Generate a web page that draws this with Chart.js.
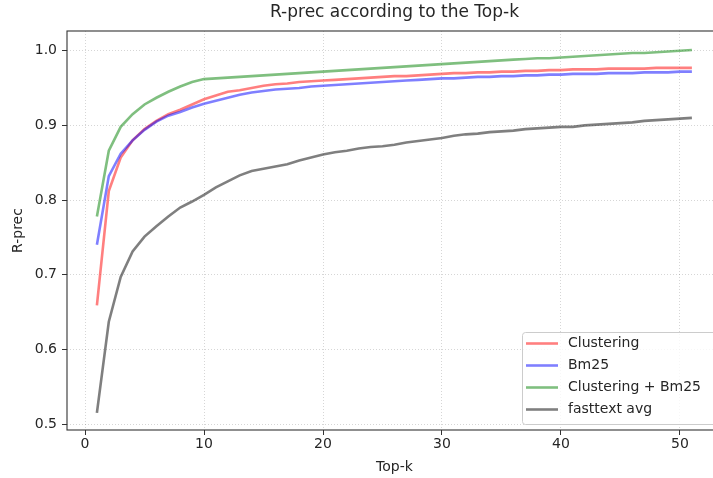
<!DOCTYPE html>
<html>
<head>
<meta charset="utf-8">
<script src="https://cdn.jsdelivr.net/npm/chart.js@4"></script>
<style>
  html, body { margin: 0; padding: 0; overflow: hidden; background: #fff; width: 713px; height: 478px; }
  canvas { display: block; }
</style>
</head>
<body>
<canvas id="chart" width="723" height="478"></canvas>
<script>
// Top-k values
const topK = [
  1, 2, 3, 4, 5, 6, 7, 8, 9, 10,
  11, 12, 13, 14, 15, 16, 17, 18, 19, 20,
  21, 22, 23, 24, 25, 26, 27, 28, 29, 30,
  31, 32, 33, 34, 35, 36, 37, 38, 39, 40,
  41, 42, 43, 44, 45, 46, 47, 48, 49, 50, 51,
];

const clustering = [
  0.659, 0.812, 0.857, 0.880, 0.895, 0.906, 0.915, 0.921, 0.928, 0.935,
  0.940, 0.945, 0.947, 0.950, 0.953, 0.955, 0.956, 0.958, 0.959, 0.960,
  0.961, 0.962, 0.963, 0.964, 0.965, 0.966, 0.966, 0.967, 0.968, 0.969,
  0.970, 0.970, 0.971, 0.971, 0.972, 0.972, 0.973, 0.973, 0.974, 0.974,
  0.975, 0.975, 0.975, 0.976, 0.976, 0.976, 0.976, 0.977, 0.977, 0.977, 0.977,
];

const bm25 = [
  0.740, 0.832, 0.862, 0.880, 0.894, 0.905, 0.913, 0.918, 0.924, 0.929,
  0.933, 0.937, 0.941, 0.944, 0.946, 0.948, 0.949, 0.950, 0.952, 0.953,
  0.954, 0.955, 0.956, 0.957, 0.958, 0.959, 0.960, 0.961, 0.962, 0.963,
  0.963, 0.964, 0.965, 0.965, 0.966, 0.966, 0.967, 0.967, 0.968, 0.968,
  0.969, 0.969, 0.969, 0.970, 0.970, 0.970, 0.971, 0.971, 0.971, 0.972, 0.972,
];

const clusteringBm25 = [
  0.778, 0.866, 0.898, 0.915, 0.928, 0.937, 0.945, 0.952, 0.958, 0.962,
  0.963, 0.964, 0.965, 0.966, 0.967, 0.968, 0.969, 0.970, 0.971, 0.972,
  0.973, 0.974, 0.975, 0.976, 0.977, 0.978, 0.979, 0.980, 0.981, 0.982,
  0.983, 0.984, 0.985, 0.986, 0.987, 0.988, 0.989, 0.990, 0.990, 0.991,
  0.992, 0.993, 0.994, 0.995, 0.996, 0.997, 0.997, 0.998, 0.999, 1.000, 1.001,
];

const fasttextAvg = [
  0.515, 0.637, 0.697, 0.731, 0.751, 0.765, 0.778, 0.790, 0.798, 0.807,
  0.817, 0.825, 0.833, 0.839, 0.842, 0.845, 0.848, 0.853, 0.857, 0.861,
  0.864, 0.866, 0.869, 0.871, 0.872, 0.874, 0.877, 0.879, 0.881, 0.883,
  0.886, 0.888, 0.889, 0.891, 0.892, 0.893, 0.895, 0.896, 0.897, 0.898,
  0.898, 0.900, 0.901, 0.902, 0.903, 0.904, 0.906, 0.907, 0.908, 0.909, 0.910,
];

const seriesNames = ['Clustering', 'Bm25', 'Clustering + Bm25', 'fasttext avg'];
const seriesColors = [
  'rgba(255, 0, 0, 0.5)',
  'rgba(0, 0, 255, 0.5)',
  'rgba(0, 128, 0, 0.5)',
  'rgba(0, 0, 0, 0.5)',
];

const FONT = 'DejaVu Sans';
const TEXT = '#262626';

function toPoints(values) {
  return topK.map((k, i) => ({ x: k, y: values[i] }));
}

// рамка вокруг области графика
const frame = {
  id: 'frame',
  afterDatasetsDraw(chart) {
    const { ctx, chartArea: a } = chart;
    ctx.save();
    ctx.strokeStyle = '#333';
    ctx.lineWidth = 1.1;
    ctx.strokeRect(a.left, a.top, a.right - a.left, a.bottom - a.top);
    ctx.restore();
  },
};

// легенда внутри графика, справа внизу
const innerLegend = {
  id: 'innerLegend',
  afterDraw(chart) {
    const { ctx } = chart;
    const x0 = 522, y0 = 332, w = 196, h = 92;
    ctx.save();
    ctx.fillStyle = 'rgba(255,255,255,0.8)';
    ctx.strokeStyle = '#cccccc';
    ctx.lineWidth = 1;
    ctx.beginPath();
    ctx.roundRect(x0 + 0.5, y0 + 0.5, w, h, 3);
    ctx.fill();
    ctx.stroke();
    ctx.font = '14px "' + FONT + '"';
    ctx.textBaseline = 'middle';
    ctx.fillStyle = TEXT;
    chart.data.datasets.forEach((ds, i) => {
      const y = 343.5 + i * 22;
      ctx.strokeStyle = ds.borderColor;
      ctx.lineWidth = 2.6;
      ctx.beginPath();
      ctx.moveTo(526, y);
      ctx.lineTo(558, y);
      ctx.stroke();
      ctx.fillText(ds.label, 568, y);
    });
    ctx.restore();
  },
};

const datasets = [clustering, bm25, clusteringBm25, fasttextAvg].map((vals, i) => ({
  label: seriesNames[i],
  data: toPoints(vals),
  borderColor: seriesColors[i],
  backgroundColor: seriesColors[i],
  borderWidth: 2.6,
  pointRadius: 0,
  tension: 0,
  fill: false,
  order: 4 - i,
}));

const gridOpts = {
  color: 'rgba(0,0,0,0.16)',
  lineWidth: 1,
  tickColor: '#333',
  tickLength: 5,
  tickWidth: 1,
  tickBorderDash: [],
};

new Chart(document.getElementById('chart'), {
  type: 'line',
  data: { datasets },
  options: {
    responsive: false,
    maintainAspectRatio: false,
    animation: false,
    layout: { padding: { left: 0, right: 1, top: 0, bottom: 0 } },
    plugins: {
      legend: { display: false },
      tooltip: { enabled: false },
      title: {
        display: true,
        fullSize: false,
        text: 'R-prec according to the Top-k',
        color: TEXT,
        font: { family: FONT, size: 17, weight: 'normal', lineHeight: 1.2 },
        padding: { top: 2, bottom: 8.6 },
      },
    },
    scales: {
      x: {
        type: 'linear',
        min: -1.513,
        max: 53.53,
        grid: gridOpts,
        border: { display: false, dash: [1, 2] },
        ticks: {
          stepSize: 10,
          includeBounds: false,
          color: TEXT,
          padding: 1,
          maxRotation: 0,
          font: { family: FONT, size: 14 },
        },
        title: {
          display: true,
          text: 'Top-k',
          color: TEXT,
          font: { family: FONT, size: 14 },
          padding: { top: 0, bottom: 2.6 },
        },
        afterFit(scale) { scale.height = 48; },
      },
      y: {
        type: 'linear',
        min: 0.492,
        max: 1.0264,
        grid: gridOpts,
        border: { display: false, dash: [1, 2] },
        ticks: {
          stepSize: 0.1,
          includeBounds: false,
          color: TEXT,
          padding: 5,
          font: { family: FONT, size: 14 },
          callback: (v) => v.toFixed(1),
        },
        title: {
          display: true,
          text: 'R-prec',
          color: TEXT,
          font: { family: FONT, size: 14 },
          padding: { top: 9.6, bottom: 0 },
        },
        afterFit(scale) { scale.width = 67; },
      },
    },
  },
  plugins: [frame, innerLegend],
});
</script>
</body>
</html>
